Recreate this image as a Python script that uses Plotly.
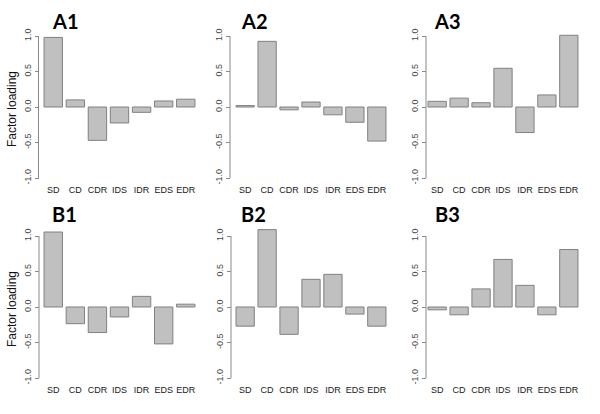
import plotly.graph_objects as go

categories = ["SD", "CD", "CDR", "IDS", "IDR", "EDS", "EDR"]
panel_titles = ["A1", "A2", "A3", "B1", "B2", "B3"]

A1 = [0.98, 0.10, -0.47, -0.225, -0.075, 0.085, 0.11]
A2 = [0.02, 0.925, -0.04, 0.07, -0.11, -0.215, -0.48]
A3 = [0.08, 0.125, 0.06, 0.545, -0.36, 0.17, 1.01]
B1 = [1.056, -0.235, -0.36, -0.14, 0.15, -0.52, 0.04]
B2 = [-0.27, 1.09, -0.385, 0.39, 0.46, -0.10, -0.27]
B3 = [-0.04, -0.11, 0.255, 0.67, 0.305, -0.11, 0.81]
panel_values = [A1, A2, A3, B1, B2, B3]

y_tickvals = [-1.0, -0.5, 0.0, 0.5, 1.0]
y_ticktext = ["-1.0", "-0.5", "0.0", "0.5", "1.0"]
y_label = "Factor loading"

W, H = 600, 414
YR = [-1.07, 1.12]
SCALE = 71.0
zero_px = [107, 307]
col_left_px = [42.2, 234.2, 426.2]
col_right_px = [196.8, 387.8, 579.8]
axis_px = [[38.5, 230.0, 426.0], [39.0, 231.0, 426.0]]
title_px = [[50, 239, 432], [50, 239, 433]]
title_py = [21, 214]

fig = go.Figure()
shapes = []
annotations = []
for idx, vals in enumerate(panel_values):
    r, c = divmod(idx, 3)
    n = idx + 1
    xa = "x" if n == 1 else f"x{n}"
    ya = "y" if n == 1 else f"y{n}"
    fig.add_trace(go.Bar(
        x=categories, y=vals, xaxis=xa, yaxis=ya,
        marker=dict(color="#c0c0c0", line=dict(color="#808080", width=1)),
        showlegend=False, hoverinfo="skip"))
    top_px = zero_px[r] - YR[1] * SCALE
    bot_px = zero_px[r] - YR[0] * SCALE
    xdom = [col_left_px[c] / W, col_right_px[c] / W]
    ydom = [1 - bot_px / H, 1 - top_px / H]
    apos = axis_px[r][c] / W
    fig.update_layout(**{
        ("xaxis" if n == 1 else f"xaxis{n}"): dict(
            domain=xdom, anchor=ya, range=[-0.5, 6.5], showgrid=False,
            zeroline=False, showline=False, ticks="", ticklen=0,
            tickfont=dict(size=9, color="#1a1a1a", family="Liberation Sans")),
        ("yaxis" if n == 1 else f"yaxis{n}"): dict(
            domain=ydom, anchor="free", position=apos, range=YR,
            showgrid=False, zeroline=False, showline=False,
            ticks="outside", ticklen=4, tickcolor="#8a8a8a", tickwidth=1,
            tickvals=y_tickvals, ticktext=y_ticktext, tickangle=-90,
            tickfont=dict(size=9, color="#444444", family="Liberation Sans")),
    })
    shapes.append(dict(type="line", xref="paper", yref=ya, x0=apos, x1=apos,
                       y0=-1, y1=1, line=dict(color="#8a8a8a", width=1)))
    annotations.append(dict(text="<b>%s</b>" % panel_titles[idx], xref="paper", yref="paper",
                            x=title_px[r][c] / W, y=1 - title_py[r] / H,
                            xanchor="left", yanchor="middle", showarrow=False,
                            font=dict(size=20, color="#000000", family="Lato")))
    if c == 0:
        annotations.append(dict(text=y_label, xref="paper", yref="paper",
                                x=12 / W, y=1 - (zero_px[r] + 2) / H, textangle=-90,
                                xanchor="center", yanchor="middle", showarrow=False,
                                font=dict(size=12, color="#111111", family="Liberation Sans")))

fig.update_layout(width=W, height=H, margin=dict(l=0, r=0, t=0, b=0),
                  paper_bgcolor="white", plot_bgcolor="white", bargap=0.167,
                  shapes=shapes, annotations=annotations)
fig.write_html("out.html", config={"displayModeBar": False},
               post_script="document.body.style.margin='0';document.body.style.overflow='hidden';")
